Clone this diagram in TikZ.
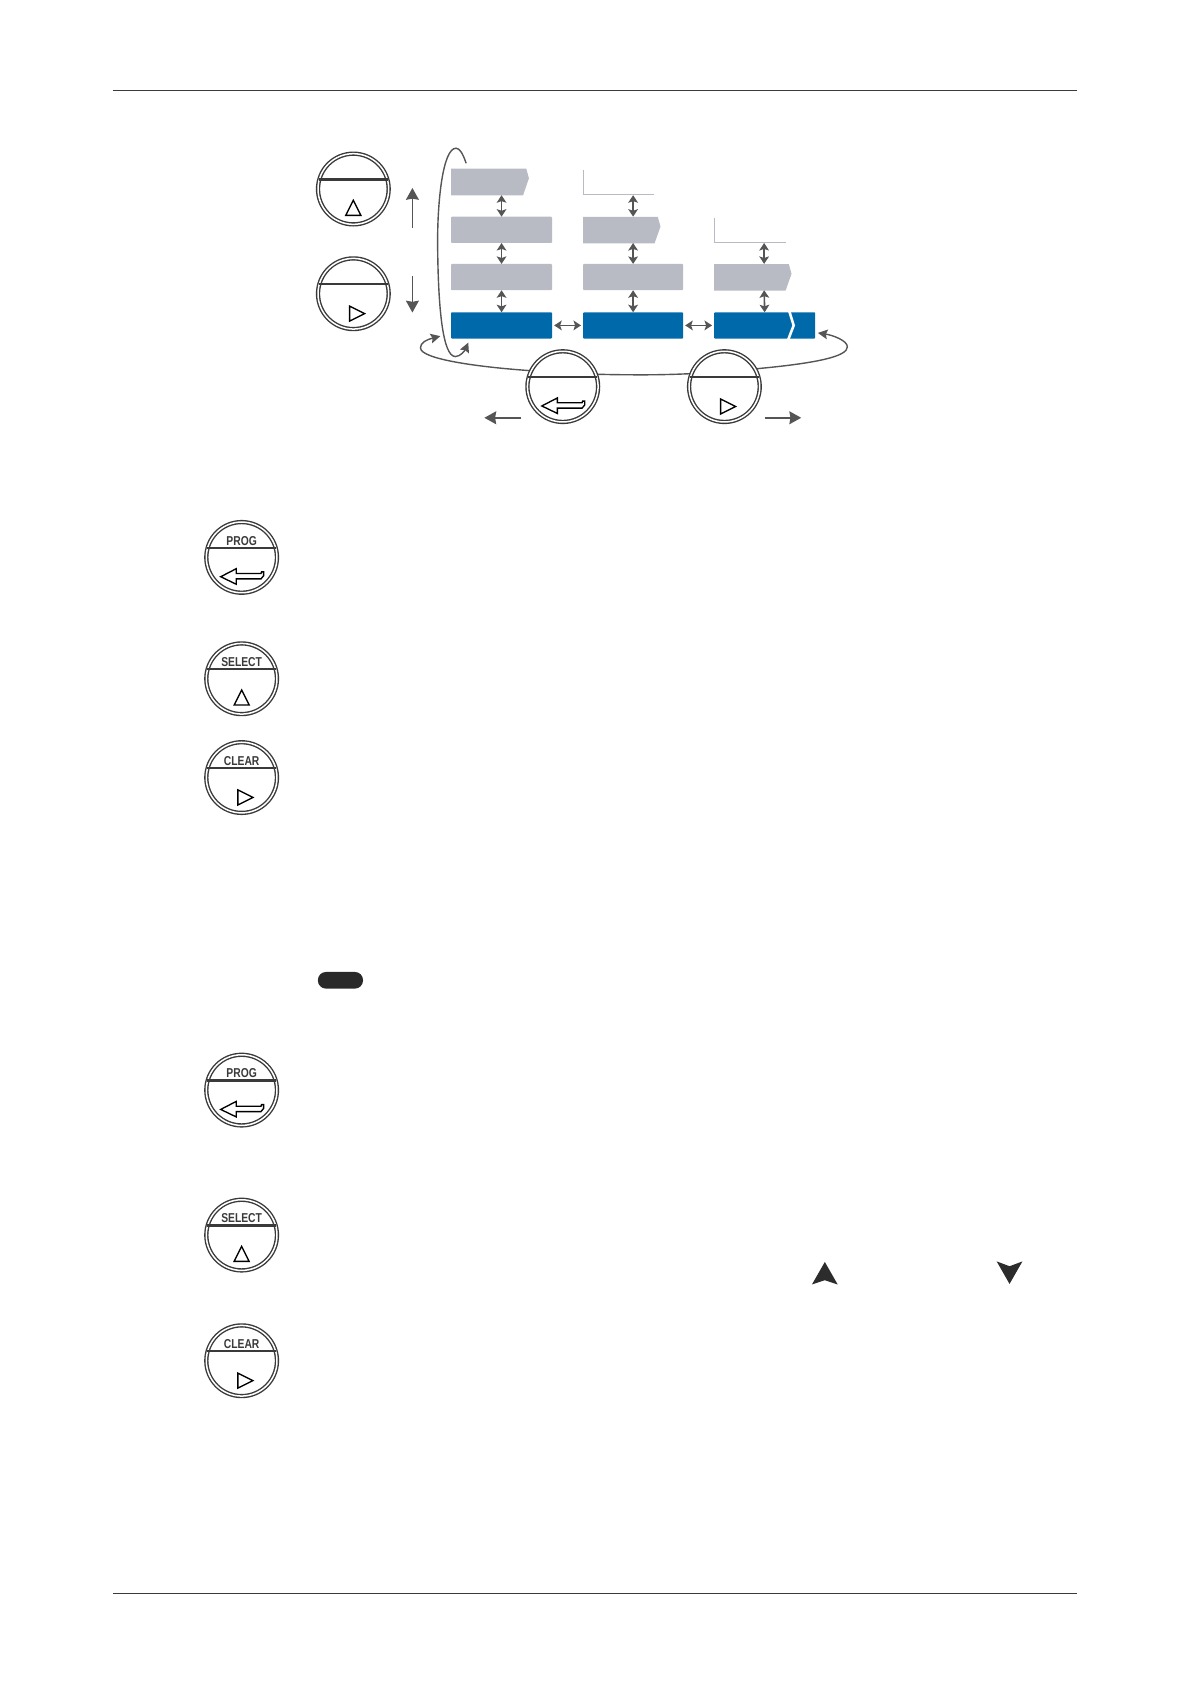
\documentclass[tikz,border=0pt]{standalone}
\usepackage{fontspec}
\setmainfont{Liberation Sans}
\usetikzlibrary{arrows.meta}
\definecolor{ink}{HTML}{3A3A3A}
\definecolor{arrowgrey}{HTML}{555555}
\definecolor{boxgrey}{HTML}{B9BBC4}
\definecolor{boxblue}{HTML}{0069AA}
\tikzset{
  ring/.style={circle,draw=ink,line width=1.3pt,double=white,double distance=1.4pt,fill=white,minimum size=65.8pt,inner sep=0pt,outer sep=0pt},
  chord/.style={draw=ink,line width=2.2pt},
  glyph/.style={draw=black,line width=1.25pt,fill=white,line join=miter},
  btntext/.style={font=\bfseries\fontsize{12}{12}\selectfont,text=ink,inner sep=0pt},
  cellbox/.style={minimum width=#1,minimum height=24.5pt,inner sep=0pt,outer sep=0pt},
  greybox/.style={cellbox=#1,fill=boxgrey,rounded corners=.8pt},
  bluebox/.style={cellbox=#1,fill=boxblue,rounded corners=.8pt},
  ghostbox/.style={cellbox=#1},
  tinyarrow/.style={draw=arrowgrey,line width=1.5pt,{Stealth[length=7pt,width=9pt,inset=1.5pt]}-{Stealth[length=7pt,width=9pt,inset=1.5pt]}},
  bigarrow/.style={draw=arrowgrey,line width=1.4pt,-{Stealth[length=11pt,width=12pt,inset=1pt]}},
  loopline/.style={draw=arrowgrey,line width=1.3pt},
  lshape/.style={draw=boxgrey,line width=1.3pt},
  rulerline/.style={draw=ink,line width=.6pt},
}
\newcommand{\btn}[5]{%
  \begin{scope}[shift={(#2,#3)}]
    \node[ring] (#1) at (0,0) {};
    \draw[chord] (-32,-9) -- (32,-9);
    \node[btntext] (#1label) at (0,-15.5) {\scalebox{.8}[1]{#4}};
    #5
  \end{scope}}
\newcommand{\gup}{\draw[glyph] (0,10.5) -- (7,24.5) -- (-7,24.5) -- cycle;}
\newcommand{\gright}{\draw[glyph] (-3.5,11.5) -- (10.5,18.5) -- (-3.5,25.5) -- cycle;}
\newcommand{\genter}{\draw[glyph] (-19.5,18) -- (-5,10.5) -- (-5,15) -- (18,15) -- (18.5,13.5) -- (20.5,13.5) -- (20.5,17) -- (18,20) -- (-5,20) -- (-5,25) -- cycle;}
\begin{document}
\begin{tikzpicture}[x=1pt,y=-1pt]
\useasboundingbox (0,0) rectangle (1109,1568);
% rules
\coordinate (rta) at (105,84.5); \coordinate (rtb) at (1003,84.5);
\coordinate (rba) at (105,1483.5); \coordinate (rbb) at (1003,1483.5);
\draw[rulerline] (rta) -- (rtb);
\draw[rulerline] (rba) -- (rbb);
% column 1
\node[ghostbox=94pt] (a1) at (467,169.5) {};
\fill[boxgrey] (420,157) -- (490,157) -- (492.5,166) -- (487,182) -- (420,182) -- cycle;
\node[greybox=94pt] (a2) at (467,214) {};
\node[greybox=94pt] (a3) at (467,258) {};
\node[bluebox=94pt] (a4) at (467,303) {};
% column 2
\node[ghostbox=94pt] (b1) at (589.5,169.5) {};
\draw[lshape] (543.5,158) -- (543.5,181.3) -- (609,181.3);
\node[ghostbox=94pt] (b2) at (589.5,214) {};
\fill[boxgrey] (543,202) -- (612.5,202) -- (615,211) -- (609.5,226.5) -- (543,226.5) -- cycle;
\node[greybox=93pt] (b3) at (589.5,258) {};
\node[bluebox=93pt] (b4) at (589.5,303) {};
% column 3
\node[ghostbox=94pt] (c2) at (711.5,214) {};
\draw[lshape] (665.5,203) -- (665.5,225.8) -- (732,225.8);
\node[ghostbox=94pt] (c3) at (711.5,258) {};
\fill[boxgrey] (665,246) -- (734.5,246) -- (737,255) -- (731.5,270.5) -- (665,270.5) -- cycle;
\node[bluebox=94pt] (c4) at (712,303) {};
\draw[white,line width=2.4pt] (735,290) -- (739,303) -- (734,316);
% vertical double arrows
\draw[tinyarrow] (a1.south) -- (a2.north);
\draw[tinyarrow] (a2.south) -- (a3.north);
\draw[tinyarrow] (a3.south) -- (a4.north);
\draw[tinyarrow] (b1.south) -- (b2.north);
\draw[tinyarrow] (b2.south) -- (b3.north);
\draw[tinyarrow] (b3.south) -- (b4.north);
\draw[tinyarrow] (c2.south) -- (c3.north);
\draw[tinyarrow] (c3.south) -- (c4.north);
% horizontal double arrows
\draw[tinyarrow,shorten <=2pt,shorten >=2pt] (a4.east) -- (b4.west);
\draw[tinyarrow,shorten <=2pt,shorten >=2pt] (b4.east) -- (c4.west);
% loops
\coordinate (la) at (434,152); \coordinate (lb) at (436,319);
\coordinate (wa) at (410,313); \coordinate (wb) at (761.5,310);
\draw[loopline,-{Stealth[length=9pt,width=9pt,inset=1.5pt]}] (la) .. controls (431,143) and (428,138) .. (424.6,138) .. controls (412,138) and (407,190) .. (407.5,230) .. controls (408,285) and (412,332) .. (424,332) .. controls (429,332) and (433,326) .. (lb);
\draw[loopline,{Stealth[length=9pt,width=9pt,inset=1.5pt]}-{Stealth[length=9pt,width=9pt,inset=1.5pt]}] (wa) .. controls (398,316) and (391,319) .. (391.5,324) .. controls (392,335) and (450,342) .. (492,345) .. controls (530,348) and (560,349) .. (598,349) .. controls (640,349) and (680,346) .. (708,343) .. controls (760,338) and (789,332) .. (789,323) .. controls (789,317) and (775,312) .. (wb);
% big buttons
\btn{bup}{329}{176}{}{\gup}
\btn{bdown}{329}{273.5}{}{\gright}
\btn{bleft}{524}{360}{}{\genter}
\btn{bright}{674.5}{360}{}{\gright}
% direction arrows
\coordinate (ua) at (384,212); \coordinate (ub) at (384,175);
\coordinate (da) at (384,257); \coordinate (db) at (384,291);
\coordinate (ea) at (485,389); \coordinate (eb) at (451,389);
\coordinate (fa) at (712,389); \coordinate (fb) at (746,389);
\draw[bigarrow] (ua) -- (ub);
\draw[bigarrow] (da) -- (db);
\draw[bigarrow] (ea) -- (eb);
\draw[bigarrow] (fa) -- (fb);
% labelled buttons
\btn{p1}{225}{519}{PROG}{\genter}
\btn{s1}{225}{632}{SELECT}{\gup}
\btn{k1}{225}{724}{CLEAR}{\gright}
\btn{p2}{225}{1015}{PROG}{\genter}
\btn{s2}{225}{1150}{SELECT}{\gup}
\btn{k2}{225}{1267}{CLEAR}{\gright}
% pill
\fill[ink!70!black,rounded corners=7.5pt] (296,905) rectangle (338,920.5);
% arrowheads
\fill[ink!75!black] (768,1175) -- (780,1196) -- (768,1192) -- (756,1196) -- cycle;
\fill[ink!75!black] (940,1195.5) -- (952,1174.5) -- (940,1179) -- (928,1174.5) -- cycle;
\end{tikzpicture}
\end{document}
